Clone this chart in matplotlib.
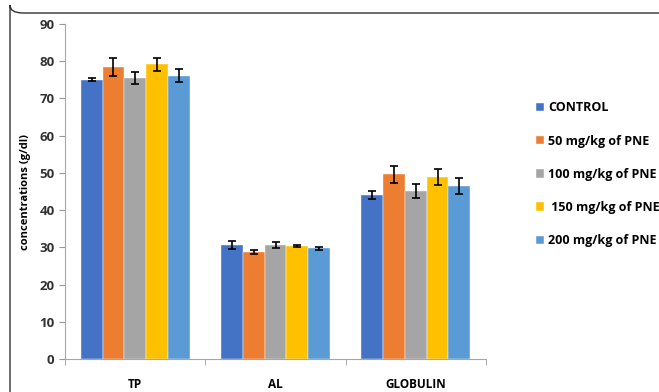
import numpy as np
import matplotlib.pyplot as plt
from matplotlib.patches import FancyBboxPatch

plt.rcParams['font.family'] = ['Open Sans', 'DejaVu Sans']

groups = ['TP', 'AL', 'GLOBULIN']
series = ['CONTROL', '50 mg/kg of PNE', '100 mg/kg of PNE',
          ' 150 mg/kg of PNE', '200 mg/kg of PNE']
colors = ['#4472C4', '#ED7D31', '#A5A5A5', '#FFC000', '#5B9BD5']

control = [75.0, 30.6, 44.0]
pne50 = [78.4, 28.8, 49.6]
pne100 = [75.5, 30.6, 45.2]
pne150 = [79.2, 30.4, 48.9]
pne200 = [76.1, 29.7, 46.5]

control_err = [0.4, 1.1, 1.1]
pne50_err = [2.5, 0.5, 2.3]
pne100_err = [1.7, 0.8, 1.9]
pne150_err = [1.7, 0.35, 2.1]
pne200_err = [1.7, 0.5, 2.1]

values = [control, pne50, pne100, pne150, pne200]
errors = [control_err, pne50_err, pne100_err, pne150_err, pne200_err]

fig = plt.figure(figsize=(6.59, 3.92), dpi=100)

# rounded outer frame, running off the right and bottom edges
frame = FancyBboxPatch((10 / 659, 1 - 13 / 392), 1.2, -1.2,
                       boxstyle='round,pad=0,rounding_size=0.02',
                       transform=fig.transFigure, fill=False,
                       edgecolor='#333333', linewidth=1.0, clip_on=False)
fig.patches.append(frame)

ax = fig.add_axes([65 / 659, 1 - 359 / 392, (486 - 65) / 659, (359 - 24) / 392])

x = np.arange(len(groups))
w = 0.155
for i, (vals, errs) in enumerate(zip(values, errors)):
    pos = x + (i - 2) * w
    ax.bar(pos, vals, width=w, color=colors[i], label=series[i],
           edgecolor='white', linewidth=0.3)
    ax.errorbar(pos, vals, yerr=errs, fmt='none', ecolor='black',
                elinewidth=1.2, capsize=3, capthick=1.2)

ax.set_xlim(-0.5, 2.5)
ax.set_ylim(0, 90)
ax.set_yticks(range(0, 91, 10))
ax.set_xticks(x)
ax.set_xticklabels(groups, fontweight='bold', fontsize=8.5)
ax.set_xticks([-0.5, 0.5, 1.5, 2.5], minor=True)
ax.tick_params(axis='x', which='major', length=0, pad=14)
ax.tick_params(axis='x', which='minor', length=4, color='#999999')
ax.tick_params(axis='y', length=4, color='#999999', labelsize=9.5,
               labelcolor='#333333')
for lbl in ax.get_yticklabels():
    lbl.set_fontweight('bold')

for s in ['top', 'right']:
    ax.spines[s].set_visible(False)
for s in ['left', 'bottom']:
    ax.spines[s].set_color('#A6A6A6')

ax.set_ylabel('concentrations (g/dl)', fontweight='bold', fontsize=8,
              labelpad=6)

fig.legend(loc='upper left', bbox_to_anchor=(525 / 659, 1 - 90 / 392),
           frameon=False, handlelength=0.65, handleheight=0.65,
           handletextpad=0.3, labelspacing=1.62,
           prop={'weight': 'bold', 'size': 9})

fig.savefig('out.png', dpi=100)
